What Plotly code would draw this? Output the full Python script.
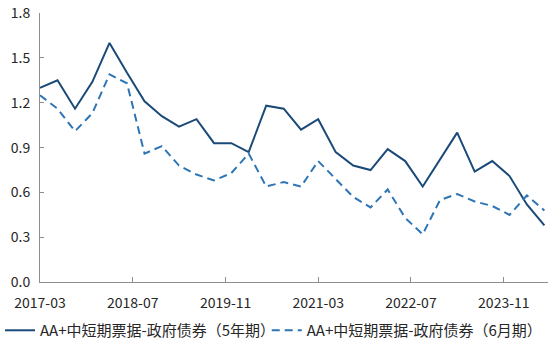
import plotly.graph_objects as go
import pandas as pd

dates = pd.date_range("2017-03-01", "2024-06-01", freq="3MS").strftime("%Y-%m-%d").tolist()
series_5y = [1.30, 1.35, 1.16, 1.34, 1.60, 1.40, 1.21, 1.11, 1.04, 1.09, 0.93, 0.93, 0.87, 1.18, 1.16,
             1.02, 1.09, 0.87, 0.78, 0.75, 0.89, 0.81, 0.64, 0.82, 1.00, 0.74, 0.81, 0.71, 0.52, 0.38]
series_6m = [1.25, 1.16, 1.01, 1.13, 1.39, 1.33, 0.86, 0.91, 0.78, 0.72, 0.68, 0.73, 0.86, 0.64, 0.67,
             0.64, 0.81, 0.69, 0.57, 0.50, 0.62, 0.43, 0.32, 0.55, 0.59, 0.54, 0.51, 0.45, 0.58, 0.48]
name_5y = "AA+中短期票据-政府债券（5年期）"
name_6m = "AA+中短期票据-政府债券（6月期）"

font_family = "Noto Sans CJK SC, Noto Sans, sans-serif"

fig = go.Figure()
fig.add_trace(go.Scatter(x=dates, y=series_5y, name=name_5y, mode="lines", legend="legend",
                         line=dict(color="#1B4A78", width=2)))
fig.add_trace(go.Scatter(x=dates, y=series_6m, name=name_6m, mode="lines", legend="legend2",
                         line=dict(color="#2E75B6", width=2, dash="8px,5px")))

leg_common = dict(orientation="h", xanchor="left", xref="container",
                  yref="container", y=0.095, yanchor="top",
                  font=dict(size=15, family=font_family, color="#262626"),
                  borderwidth=0, bgcolor="rgba(0,0,0,0)")

fig.update_layout(
    width=550, height=347,
    margin=dict(l=40, r=2, t=13, b=60),
    paper_bgcolor="white", plot_bgcolor="white",
    font=dict(family=font_family, size=14, color="#262626"),
    showlegend=True,
    legend=dict(x=0.0, **leg_common),
    legend2=dict(x=0.485, **leg_common),
)
fig.update_xaxes(
    type="date", range=["2017-03-01", "2024-06-20"],
    tick0="2017-03-01", dtick="M16", tickformat="%Y-%m",
    showgrid=False, showline=True, linecolor="#8c8c8c", linewidth=1,
    ticks="inside", ticklen=5, tickcolor="#8c8c8c", zeroline=False,
    ticklabelstandoff=8,
)
fig.update_yaxes(
    range=[0, 1.8], tick0=0, dtick=0.3, tickformat=".1f",
    showgrid=False, showline=True, linecolor="#8c8c8c", linewidth=1,
    ticks="inside", ticklen=4, tickcolor="#8c8c8c", zeroline=False,
    ticklabelstandoff=6,
)

fig.write_html("out.html")
